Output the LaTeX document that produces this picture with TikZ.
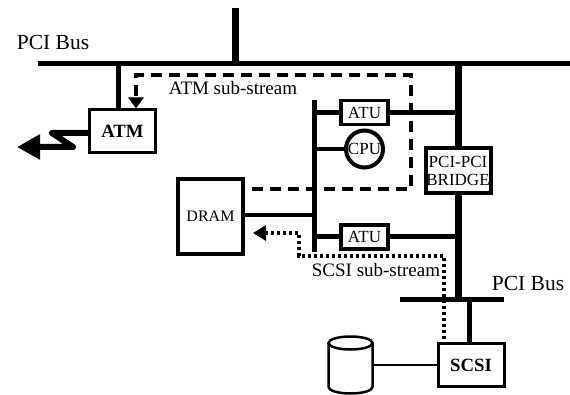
\documentclass[tikz,border=0pt]{standalone}
\usepackage{fontspec}
\setmainfont{Liberation Serif}
\usetikzlibrary{positioning, arrows.meta}

\begin{document}
\begin{tikzpicture}[x=1pt, y=-1pt, on grid,
	box/.style={rectangle, draw, line width=3pt, inner sep=0pt, align=center},
	atu/.style={box, line width=3.5pt, minimum width=47pt, minimum height=24pt, font=\fontsize{17}{17}\selectfont},
	io/.style={box, minimum width=66pt, minimum height=43pt, font=\fontsize{18.7}{19}\selectfont\bfseries},
	lbl/.style={inner sep=0pt, font=\fontsize{19}{19}\selectfont},
	bus/.style={line width=5pt},
	wide/.style={line width=7pt},
	wire/.style={line width=4pt},
	ds/.style={line width=3.5pt, dash pattern=on 11pt off 7pt, -{Triangle[length=11pt, width=15pt]}},
	dt/.style={line width=3.5pt, dash pattern=on 3pt off 3pt, {Triangle[length=13pt, width=15pt]}-}]
	\useasboundingbox (0,0) rectangle (570,395);

	% buses
	\coordinate (top_l) at (38,64);
	\coordinate (top_r) at (570,64);
	\coordinate (top_up) at (235,8);
	\coordinate (top_dn) at (235,64);
	\coordinate (mid_up) at (314,100);
	\coordinate (mid_dn) at (314,252);
	\coordinate (right_up) at (458,64);
	\coordinate (low_l) at (400,299);
	\coordinate (low_r) at (504,299);
	\coordinate (right_dn) at (458,299);

	\node[lbl, font=\fontsize{21.5}{22}\selectfont] (top_label) at (53,42) {PCI Bus};
	\node[lbl, font=\fontsize{21.5}{22}\selectfont] (low_label) at (528,283) {PCI Bus};

	% boxes
	\node[io] (ATM) at (122.5,131.5) {ATM};
	\node[io] (SCSI) at (471,365) {SCSI};
	\node[atu] (ATU1) at (364.5,112.5) {ATU};
	\node[atu, below=124.5pt of ATU1] (ATU2) {ATU};
	\node[circle, draw, line width=4pt, minimum size=37pt, inner sep=0pt, font=\fontsize{17}{17}\selectfont, below=36.5pt of ATU1] (CPU) {CPU};
	\node[box, line width=4pt, minimum width=65pt, minimum height=45pt, font=\fontsize{17}{18}\selectfont] (BRIDGE) at (458,170.5) {PCI-PCI\\BRIDGE};
	\node[box, line width=4pt, minimum width=65pt, minimum height=75pt, font=\fontsize{16}{16}\selectfont] (DRAM) at (210.5,216.5) {DRAM};
	\node[minimum width=44pt, minimum height=57pt, inner sep=0pt] (DISK) at (350.5,365) {};

	\node[lbl] (atm_label) at (233,88) {ATM sub-stream};
	\node[lbl] (scsi_label) at (376,270) {SCSI sub-stream};

	% disk outline
	\draw[line width=2.5pt] (350.5,343) ellipse [x radius=22, y radius=6.5];
	\draw[line width=2.5pt] (328.5,343) -- (328.5,387) arc [start angle=180, end angle=0, x radius=22, y radius=6.5] -- (372.5,343);

	% connections
	\draw[bus] (top_l) -- (top_r);
	\draw[wide] (top_up) -- (top_dn);
	\draw[bus] (ATM.north -| 118,0) -- (top_l -| 118,0);
	\draw[bus] (mid_up) -- (mid_dn);
	\draw[wide] (right_up) -- (BRIDGE);
	\draw[wide] (BRIDGE) -- (right_dn);
	\draw[bus] (low_l) -- (low_r);
	\draw[bus] (SCSI.north -| 469,0) -- (low_l -| 469,0);
	\draw[bus] (mid_up |- ATU1) -- (ATU1);
	\draw[bus] (ATU1) -- (right_up |- ATU1);
	\draw[bus] (mid_up |- ATU2) -- (ATU2);
	\draw[bus] (ATU2) -- (right_up |- ATU2);
	\draw[wire] (mid_up |- CPU) -- (CPU);
	\draw[wire] (DRAM.east |- 0,215) -- (mid_up |- 0,215);
	\draw[line width=2.5pt] (DISK.east) -- (SCSI);

	% link out of the ATM box
	\coordinate (zig_a) at (52,133);
	\coordinate (zig_b) at (73,147);
	\coordinate (zig_c) at (17,147);
	\draw[line width=6pt, line join=round, -{Triangle[length=23pt, width=24pt]}] (ATM.west |- zig_a) -- (zig_a) -- (zig_b) -- (zig_c);

	% sub-streams
	\coordinate (atm_a) at (252,189);
	\coordinate (atm_b) at (411,189);
	\coordinate (atm_c) at (411,75);
	\coordinate (atm_d) at (136,75);
	\draw[ds] (atm_a) -- (atm_b) -- (atm_c) -- (atm_d) -- (atm_d |- ATM.north);
	\coordinate (scsi_a) at (444,256);
	\coordinate (scsi_b) at (299,256);
	\coordinate (scsi_c) at (299,233);
	\draw[dt] (DRAM.east |- scsi_c) ++(8,0) -- (scsi_c) -- (scsi_b) -- (scsi_a) -- (scsi_a |- SCSI.north);
\end{tikzpicture}
\end{document}
